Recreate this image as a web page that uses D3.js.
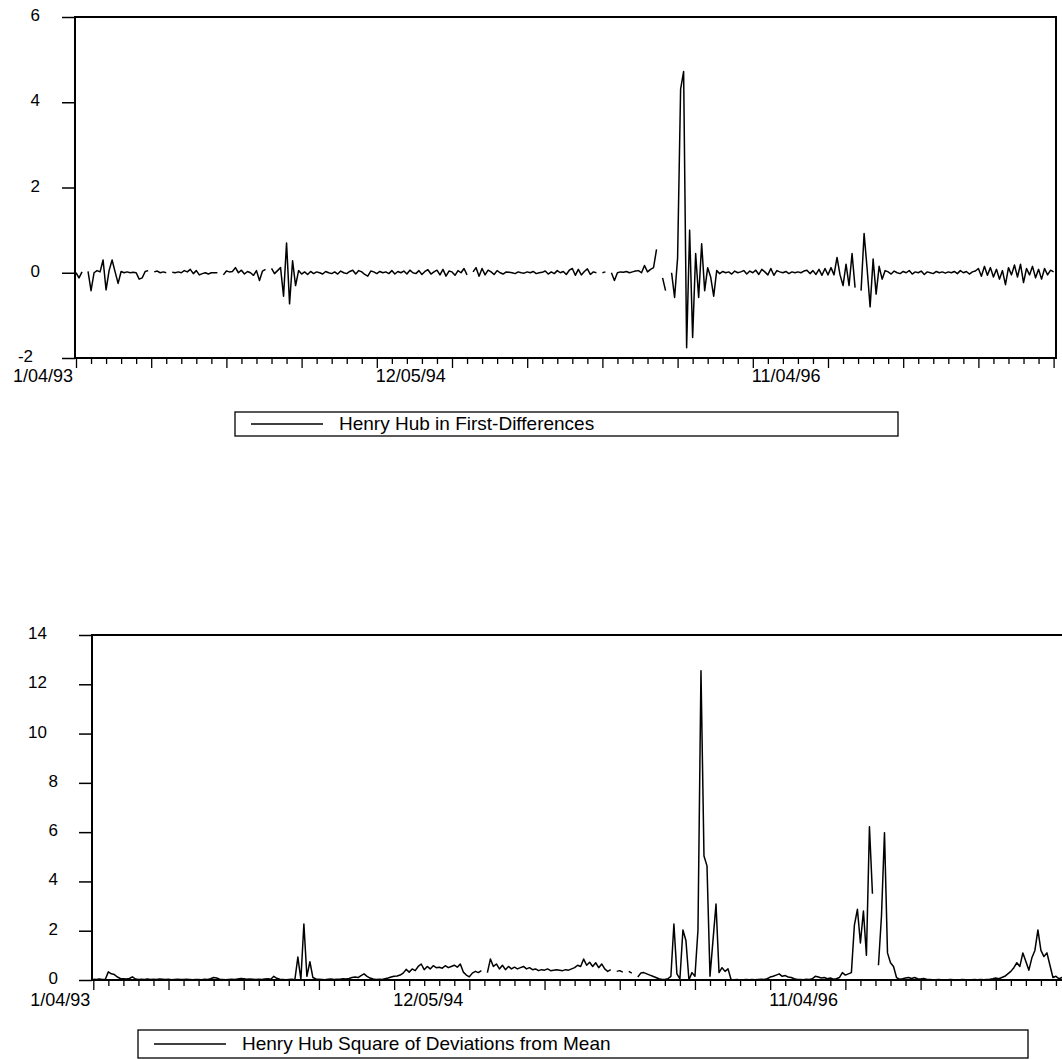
<!DOCTYPE html>
<html>
<head>
<meta charset="UTF-8">
<title>Henry Hub</title>
<script src="https://d3js.org/d3.v7.min.js"></script>
<style>
  body { margin: 0; background: #fff; }
  text { font-family: "Liberation Sans", Arial, sans-serif; fill: #000; }
</style>
</head>
<body>
<svg id="chart"></svg>
<script>
// observations are plotted on an index axis, 5 obs per minor tick
const nObs = 326;

// Henry Hub in first-differences (null = missing)
const diffValues = [
  0.0, -0.12, 0.02, null, 0.03, -0.42, 0.0, 0.05, 0.02, 0.3,
  -0.4, 0.05, 0.3, 0.02, -0.25, 0.03, 0.0, 0.02, 0.0, 0.01,
  0.0, -0.15, -0.12, 0.03, 0.05, null, 0.02, 0.04, 0.0, 0.02,
  0.0, null, 0.01, 0.0, 0.02, 0.0, 0.05, 0.02, 0.08, -0.02,
  0.05, -0.05, -0.02, 0.0, -0.03, 0.0, 0.0, 0.0, null, -0.05,
  0.04, 0.02, 0.03, 0.12, 0.0, 0.06, -0.03, 0.03, 0.0, -0.06,
  0.05, -0.18, 0.04, 0.08, null, 0.1, -0.02, 0.05, 0.12, -0.55,
  0.7, -0.73, 0.28, -0.3, 0.05, -0.03, 0.02, -0.04, 0.03, -0.02,
  0.02, 0.0, -0.03, 0.03, 0.0, -0.02, 0.02, -0.03, 0.04, 0.0,
  -0.02, 0.03, 0.06, -0.03, 0.05, 0.02, -0.04, -0.08, 0.04, 0.02,
  -0.02, 0.03, 0.0, 0.02, -0.02, 0.05, -0.03, 0.03, 0.0, 0.04,
  -0.03, 0.06, 0.0, -0.02, 0.05, -0.04, 0.03, 0.07, -0.03, 0.02,
  0.06, -0.05, 0.08, -0.08, 0.04, 0.02, -0.06, 0.05, 0.0, 0.1,
  -0.05, null, 0.02, 0.12, -0.08, 0.1, -0.05, 0.06, 0.02, -0.04,
  0.05, 0.0, -0.03, 0.02, 0.01, 0.0, -0.02, 0.02, 0.0, -0.01,
  0.02, 0.0, 0.03, -0.02, 0.0, 0.01, 0.04, -0.03, 0.02, -0.02,
  0.05, 0.0, 0.03, -0.04, 0.06, 0.1, -0.06, 0.08, -0.05, 0.03,
  0.09, -0.04, 0.02, 0.0, null, 0.0, 0.02, null, 0.0, -0.18,
  0.0, 0.02, 0.01, 0.03, 0.0, 0.02, 0.04, 0.05, 0.0, 0.17,
  0.02, 0.08, 0.12, 0.55, null, -0.12, -0.42, null, 0.0, -0.58,
  0.35, 4.31, 4.72, -1.76, 1.0, -1.52, 0.45, -0.58, 0.68, -0.42,
  0.12, -0.1, -0.55, 0.05, -0.02, 0.03, 0.0, 0.02, -0.03, 0.04,
  0.0, 0.02, 0.05, -0.03, 0.04, 0.0, 0.06, -0.04, 0.08, 0.02,
  -0.05, 0.1, -0.06, 0.05, 0.02, 0.0, 0.03, -0.02, 0.02, 0.0,
  0.02, 0.0, 0.04, 0.06, -0.02, 0.05, -0.04, 0.08, -0.06, 0.1,
  -0.05, 0.12, -0.05, 0.36, -0.05, -0.3, 0.2, -0.3, 0.45, -0.35,
  null, -0.42, 0.92, 0.1, -0.8, 0.32, -0.5, 0.15, -0.15, 0.05,
  0.02, -0.03, 0.04, 0.0, -0.02, 0.03, 0.0, 0.05, -0.03, 0.02,
  0.0, 0.04, -0.04, 0.02, 0.0, -0.02, 0.03, 0.0, 0.02, -0.01,
  0.02, 0.0, 0.03, -0.02, 0.05, 0.0, 0.03, -0.03, 0.02, 0.04,
  0.1, -0.08, 0.15, -0.06, 0.12, -0.1, 0.08, -0.15, 0.05, -0.28,
  0.12, -0.05, 0.18, -0.1, 0.2, -0.23, 0.1, -0.05, 0.15, -0.12,
  0.08, -0.15, 0.1, -0.05, 0.06, 0.02
];

// Henry Hub square of deviations from mean
const sqDevValues = [
  0.03, 0.02, 0.04, 0.02, 0.03, 0.33, 0.25, 0.22, 0.12, 0.06,
  0.05, 0.04, 0.06, 0.13, 0.04, 0.02, 0.03, 0.02, 0.04, 0.02,
  0.03, 0.02, 0.04, 0.03, 0.02, 0.03, 0.01, 0.02, 0.03, 0.02,
  0.02, 0.03, 0.02, 0.01, 0.02, 0.02, 0.01, 0.03, 0.02, 0.05,
  0.1, 0.08, 0.03, 0.02, 0.01, 0.02, 0.03, 0.02, 0.04, 0.06,
  0.05, 0.03, 0.04, 0.03, 0.02, 0.03, 0.02, 0.04, 0.05, 0.03,
  0.15, 0.07, 0.03, 0.02, 0.01, 0.02, 0.03, 0.01, 0.93, 0.02,
  2.27, 0.15, 0.74, 0.1, 0.04, 0.03, 0.02, 0.01, 0.03, 0.04,
  0.02, 0.03, 0.03, 0.05, 0.04, 0.06, 0.1, 0.12, 0.1, 0.18,
  0.25, 0.15, 0.08, 0.04, 0.02, 0.03, 0.02, 0.05, 0.08, 0.12,
  0.15, 0.16, 0.2, 0.28, 0.43, 0.32, 0.45, 0.38, 0.55, 0.65,
  0.42, 0.55, 0.45, 0.58, 0.5, 0.52, 0.48, 0.58, 0.5, 0.55,
  0.6, 0.52, 0.65, 0.32, 0.2, 0.13, 0.28, 0.35, 0.3, 0.38,
  null, 0.3, 0.85, 0.55, 0.65, 0.45, 0.6, 0.42, 0.55, 0.45,
  0.52, 0.45, 0.5, 0.55, 0.45, 0.5, 0.42, 0.45, 0.38, 0.42,
  0.4, 0.45, 0.38, 0.4, 0.42, 0.4, 0.38, 0.42, 0.4, 0.45,
  0.5, 0.6, 0.55, 0.85, 0.6, 0.72, 0.55, 0.7, 0.5, 0.65,
  0.45, 0.35, 0.42, null, 0.35, 0.38, 0.32, null, 0.35, 0.28,
  null, 0.12, 0.28, 0.3, 0.25, 0.2, 0.15, 0.1, 0.05, 0.02,
  0.02, 0.05, 0.15, 2.27, 0.25, 0.05, 2.03, 1.6, 0.0, 0.3,
  0.15, 2.03, 12.55, 5.03, 4.63, 0.15, 1.62, 3.08, 0.3, 0.5,
  0.35, 0.45, 0.02, 0.01, 0.02, 0.0, 0.01, 0.02, 0.01, 0.02,
  0.01, 0.02, 0.03, 0.02, 0.05, 0.12, 0.15, 0.2, 0.25, 0.15,
  0.18, 0.12, 0.1, 0.05, 0.02, 0.02, 0.01, 0.03, 0.02, 0.05,
  0.15, 0.12, 0.08, 0.1, 0.05, 0.08, 0.03, 0.05, 0.1, 0.3,
  0.2, 0.25, 0.3, 2.23, 2.87, 1.5, 2.8, 1.0, 6.22, 3.5,
  null, 0.6, 2.6, 5.98, 1.1, 0.7, 0.55, 0.1, 0.03, 0.05,
  0.08, 0.1, 0.06, 0.1, 0.05, 0.04, 0.06, 0.03, 0.02, 0.01,
  0.01, 0.02, 0.01, 0.0, 0.01, 0.02, 0.01, 0.0, 0.01, 0.02,
  0.01, 0.0, 0.01, 0.02, 0.01, 0.02, 0.01, 0.02, 0.03, 0.05,
  0.08, 0.05, 0.1, 0.15, 0.25, 0.35, 0.5, 0.7, 0.55, 1.1,
  0.75, 0.4, 0.9, 1.2, 2.03, 1.2, 0.95, 1.1, 0.6, 0.1,
  0.15, 0.05, 0.1, 0.04, 0.03, 0.02
];

const dateLabels = ["1/04/93", "12/05/94", "11/04/96"];
const dateLabelObs = [0, 100, 225];
const yTicksDiff = [-2, 0, 2, 4, 6];
const yTicksSq = [0, 2, 4, 6, 8, 10, 12, 14];
const legendDiff = "Henry Hub in First-Differences";
const legendSq = "Henry Hub Square of Deviations from Mean";

const width = 1062, height = 1059;
const svg = d3.select("#chart").attr("width", width).attr("height", height);

function drawPanel(p) {
  const x = d3.scaleLinear().domain([0, nObs - 1]).range([p.x0, p.x1]);
  const y = d3.scaleLinear().domain(p.yDomain).range([p.bottom, p.top]);
  const g = svg.append("g");

  // the series, broken where values are missing
  g.append("path")
    .datum(p.values)
    .attr("fill", "none")
    .attr("stroke", "#000")
    .attr("stroke-width", 1.5)
    .attr("stroke-linejoin", "round")
    .attr("d", d3.line().defined(d => d !== null).x((d, i) => x(i)).y(d => y(d)));

  // plot frame
  g.append("rect")
    .attr("x", p.frameLeft).attr("y", p.top)
    .attr("width", p.frameRight - p.frameLeft).attr("height", p.bottom - p.top)
    .attr("fill", "none").attr("stroke", "#000").attr("stroke-width", 2);

  // y ticks
  g.append("g")
    .attr("transform", `translate(${p.frameLeft},0)`)
    .call(d3.axisLeft(y).tickValues(p.yTicks).tickSize(13).tickFormat(""))
    .call(a => a.select(".domain").remove())
    .call(a => a.selectAll("line").attr("stroke-width", 1.5));

  g.selectAll(".ylab")
    .data(p.yTicks)
    .enter().append("text")
    .attr("class", "ylab")
    .attr("x", d => p.labelEnd - (String(d).length - 1) * p.charShift)
    .attr("y", d => y(d) + 4)
    .attr("text-anchor", "end")
    .attr("font-size", "17px")
    .text(d => d);

  // x ticks: minor every 5 obs, major every 25
  const minor = d3.range(0, nObs, 5).filter(t => t % 25 !== 0);
  const major = d3.range(0, nObs, 25);
  g.append("g")
    .attr("transform", `translate(0,${p.bottom})`)
    .call(d3.axisBottom(x).tickValues(minor).tickSize(6).tickFormat(""))
    .call(a => a.select(".domain").remove())
    .call(a => a.selectAll("line").attr("stroke-width", 1.3));
  g.append("g")
    .attr("transform", `translate(0,${p.bottom})`)
    .call(d3.axisBottom(x).tickValues(major).tickSize(10).tickFormat(""))
    .call(a => a.select(".domain").remove())
    .call(a => a.selectAll("line").attr("stroke-width", 1.3));

  g.selectAll(".xlab")
    .data(dateLabels)
    .enter().append("text")
    .attr("class", "xlab")
    .attr("x", (d, i) => i === 0 ? x(dateLabelObs[i]) - 3 : x(dateLabelObs[i]) - 1)
    .attr("y", p.bottom + p.xLabelDrop)
    .attr("text-anchor", (d, i) => i === 0 ? "end" : "start")
    .attr("font-size", "18px")
    .text(d => d);

  // legend box
  const L = p.legend;
  g.append("rect")
    .attr("x", L.x).attr("y", L.y).attr("width", L.w).attr("height", L.h)
    .attr("fill", "none").attr("stroke", "#000").attr("stroke-width", 1.3);
  g.append("line")
    .attr("x1", L.x + 16).attr("x2", L.x + 88)
    .attr("y1", L.y + L.h / 2).attr("y2", L.y + L.h / 2)
    .attr("stroke", "#000").attr("stroke-width", 1.3);
  g.append("text")
    .attr("x", L.x + 104).attr("y", L.y + L.h / 2 + 6)
    .attr("font-size", "19px")
    .text(L.text);
}

drawPanel({
  values: diffValues, yDomain: [-2, 6], yTicks: yTicksDiff,
  x0: 76, x1: 1053.6, frameLeft: 75, frameRight: 1056,
  top: 17, bottom: 358, labelEnd: 40, charShift: 7, xLabelDrop: 24,
  legend: {x: 235, y: 412, w: 663, h: 24, text: legendDiff}
});

drawPanel({
  values: sqDevValues, yDomain: [0, 14], yTicks: yTicksSq,
  x0: 93.3, x1: 1071, frameLeft: 92, frameRight: 1075,
  top: 635, bottom: 980, labelEnd: 58, charShift: 11, xLabelDrop: 26,
  legend: {x: 138, y: 1030, w: 890, h: 28, text: legendSq}
});
</script>
</body>
</html>
